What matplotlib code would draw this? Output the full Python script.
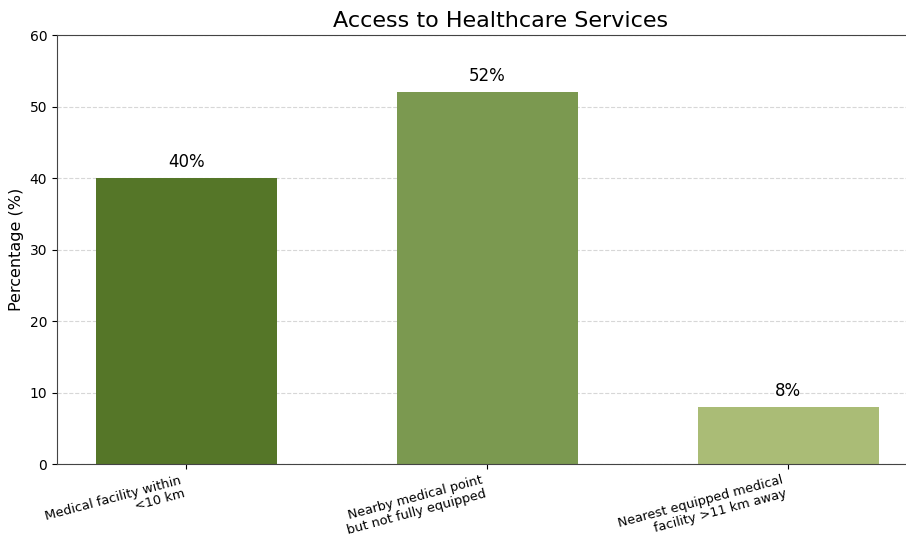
import numpy as np
import matplotlib.pyplot as plt

# Data
categories = ['Medical facility within\n<10 km',
              'Nearby medical point\nbut not fully equipped',
              'Nearest equipped medical\nfacility >11 km away']
values = [40, 52, 8]
colors = ['#557628', '#7b9950', '#aabc76']

fig = plt.figure(figsize=(9.06, 5.38), dpi=100)
# the reference is cropped on the right, so the axes run past the figure edge
ax = fig.add_axes([0.0629, 0.1375, 0.980, 0.797])

x = np.arange(len(categories))
bars = ax.bar(x, values, width=0.6, color=colors, zorder=2)

for b, v in zip(bars, values):
    ax.text(b.get_x() + b.get_width() / 2, v + 1, '{}%'.format(v),
            ha='center', va='bottom', fontsize=12)

ax.set_xlim(-0.43, 2.52)
ax.set_ylim(0, 60)
ax.set_xticks(x)
ax.set_xticklabels(categories, rotation=15, ha='right', fontsize=9.3,
                   linespacing=1.1)
ax.set_ylabel('Percentage (%)', fontsize=11.5)
ax.set_title('Access to Healthcare Services', fontsize=16)
ax.yaxis.grid(True, linestyle='--', alpha=0.5, zorder=0)
ax.set_axisbelow(True)
for s in ax.spines.values():
    s.set_color('#444444')

fig.savefig('out.png', dpi=100)
